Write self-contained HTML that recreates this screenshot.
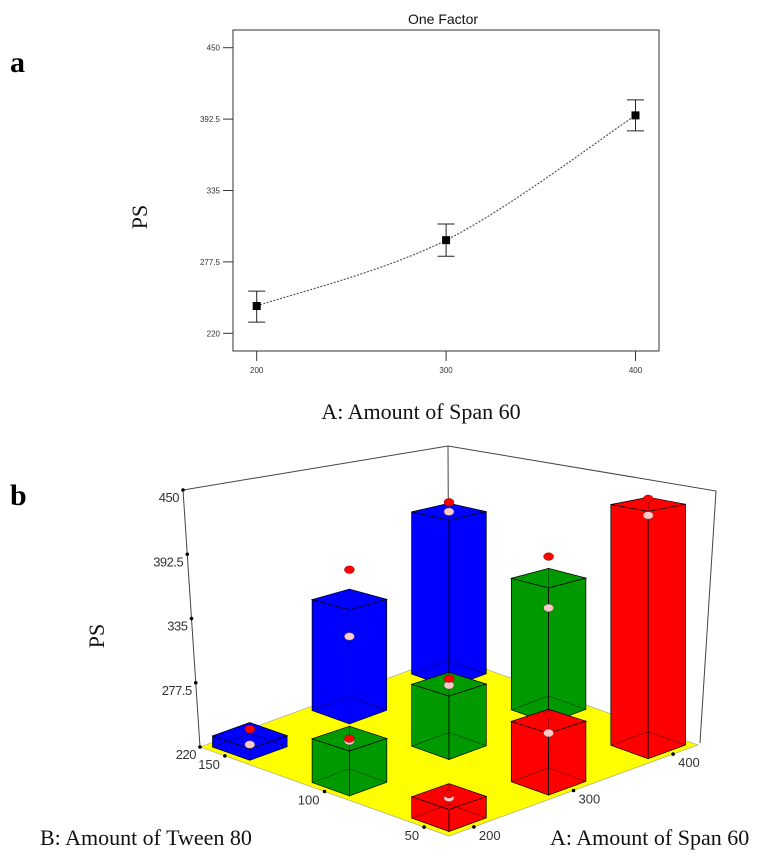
<!DOCTYPE html>
<html><head><meta charset="utf-8"><style>
html,body{margin:0;padding:0;background:#fff;}
svg{display:block;}
</style></head><body>
<svg id="fig" width="769" height="859" viewBox="0 0 769 859" xmlns="http://www.w3.org/2000/svg">
  <text x="10" y="72" font-family="Liberation Serif, serif" font-weight="bold" font-size="30">a</text>
  <text x="10" y="505" font-family="Liberation Serif, serif" font-weight="bold" font-size="30">b</text>
  <g id="chartA"></g>
  <g id="chartB"></g>
</svg>
<script>
// ---- Chart a data ----
const aCategories = [200, 300, 400];
const aMeans = [242, 295, 395.5];
const aUpper = [254, 308, 408];
const aLower = [229, 282, 383];
const aYTicks = [220, 277.5, 335, 392.5, 450];
const aYTickLabels = ["220", "277.5", "335", "392.5", "450"];

// ---- Chart b data ----
const bALevels = [200, 300, 400];
const bBLevels = [50, 100, 150];
// bar values indexed [A index][B index]
const bBarValues = [[237, 257, 230], [271, 276, 328], [438, 348, 391]];
const bPinkValues = [[236, 255, 222], [261, 275, 292], [428, 319, 391]];
const bRedValues = [[239, 257, 236], [276, 281, 357], [443, 369, 401]];
const bZTicks = [220, 277.5, 335, 392.5, 450];
const bZTickLabels = ["220", "277.5", "335", "392.5", "450"];

const NS = "http://www.w3.org/2000/svg";
function mk(parent, tag, attrs, name) {
  const el = document.createElementNS(NS, tag);
  for (const k in attrs) el.setAttribute(k, attrs[k]);
  
  
  parent.appendChild(el);
  return el;
}

// ===== Chart a =====
(function () {
  const g = document.getElementById('chartA');
  const L = 233, R = 659, T = 30, B = 351;
  const xs = v => 256.7 + (v - 200) / 200 * (635.5 - 256.7);
  const ys = v => 333.3 - (v - 220) / 230 * (333.3 - 47.7);
  let t = mk(g, 'text', {x: 443, y: 24, 'text-anchor': 'middle', 'font-family': 'Liberation Sans, sans-serif', 'font-size': 14, fill: '#111'}, 'chart-title');
  t.textContent = 'One Factor';
  mk(g, 'rect', {x: L, y: T, width: R - L, height: B - T, fill: 'none', stroke: '#333', 'stroke-width': 1}, 'plot-frame');
  aYTicks.forEach((v, i) => {
    const y = ys(v);
    mk(g, 'line', {x1: L - 10, x2: L, y1: y, y2: y, stroke: '#333'}, 'y-tick');
    const tx = mk(g, 'text', {x: L - 13, y: y + 3, 'text-anchor': 'end', 'font-family': 'Liberation Sans, sans-serif', 'font-size': 8, fill: '#333'}, 'y-tick-label');
    tx.textContent = aYTickLabels[i];
  });
  aCategories.forEach(v => {
    const x = xs(v);
    mk(g, 'line', {x1: x, x2: x, y1: B, y2: B + 10, stroke: '#333'}, 'x-tick');
    const tx = mk(g, 'text', {x: x, y: 373, 'text-anchor': 'middle', 'font-family': 'Liberation Sans, sans-serif', 'font-size': 8, fill: '#333'}, 'x-tick-label');
    tx.textContent = String(v);
  });
  // smooth dotted line through means
  const pts = aCategories.map((c, i) => [xs(c), ys(aMeans[i])]);
  let d = 'M' + pts[0][0] + ' ' + pts[0][1];
  for (let i = 0; i < pts.length - 1; i++) {
    const p0 = pts[Math.max(0, i - 1)], p1 = pts[i], p2 = pts[i + 1], p3 = pts[Math.min(pts.length - 1, i + 2)];
    const c1 = [p1[0] + (p2[0] - p0[0]) / 6, p1[1] + (p2[1] - p0[1]) / 6];
    const c2 = [p2[0] - (p3[0] - p1[0]) / 6, p2[1] - (p3[1] - p1[1]) / 6];
    d += ' C' + c1.join(' ') + ' ' + c2.join(' ') + ' ' + p2.join(' ');
  }
  mk(g, 'path', {d: d, fill: 'none', stroke: '#555', 'stroke-width': 1.2, 'stroke-dasharray': '2 1.5'}, 'mean-line');
  aCategories.forEach((c, i) => {
    const x = xs(c);
    mk(g, 'line', {x1: x, x2: x, y1: ys(aUpper[i]), y2: ys(aLower[i]), stroke: '#222'}, 'error-bar');
    mk(g, 'line', {x1: x - 8.5, x2: x + 8.5, y1: ys(aUpper[i]), y2: ys(aUpper[i]), stroke: '#222'}, 'error-cap-top');
    mk(g, 'line', {x1: x - 8.5, x2: x + 8.5, y1: ys(aLower[i]), y2: ys(aLower[i]), stroke: '#222'}, 'error-cap-bottom');
    mk(g, 'rect', {x: x - 4, y: ys(aMeans[i]) - 4, width: 8, height: 8, fill: '#000'}, 'mean-point');
  });
  t = mk(g, 'text', {x: 421, y: 419, 'text-anchor': 'middle', 'font-family': 'Liberation Serif, serif', 'font-size': 22, fill: '#111'}, 'x-axis-title');
  t.textContent = 'A: Amount of Span 60';
  t = mk(g, 'text', {x: 0, y: 0, 'text-anchor': 'middle', 'font-family': 'Liberation Serif, serif', 'font-size': 22, fill: '#111', transform: 'translate(147,217) rotate(-90)'}, 'y-axis-title');
  t.textContent = 'PS';
})();

// ===== Chart b =====
(function () {
  const g = document.getElementById('chartB');
  const F = [449, 836], AV = [249, -91], BV = [-249, -89];
  const uOf = a => 0.1 + (a - 200) / 200 * 0.8;
  const vOf = b => 0.1 + (b - 50) / 100 * 0.8;
  const sc = (u, v) => 1.30 - 0.39 * (u + v) / 2;
  function P(u, v, val) {
    const x = F[0] + u * AV[0] + v * BV[0];
    const y = F[1] + u * AV[1] + v * BV[1] - (val - 220) * sc(u, v);
    return [x, y];
  }
  const pstr = arr => arr.map(p => p[0].toFixed(1) + ',' + p[1].toFixed(1)).join(' ');
  // floor
  const Lc = P(0, 1, 220), Fc = P(0, 0, 220), Rc = P(1, 0, 220), Bc = P(1, 1, 220);
  mk(g, 'polygon', {points: pstr([Lc, Fc, Rc, Bc]), fill: '#ffff00', stroke: '#999', 'stroke-width': 0.6}, 'floor');
  // frame
  const LT = [183, 490], BT = [448, 446], RT = [716, 491];
  mk(g, 'polyline', {points: pstr([[Lc[0], Lc[1]], LT, BT, RT, [Rc[0] + 2, Rc[1] - 2]]), fill: 'none', stroke: '#444', 'stroke-width': 1}, 'frame-lines');
  mk(g, 'line', {x1: BT[0], y1: BT[1], x2: Bc[0], y2: Bc[1], stroke: '#444'}, 'back-vertical');
  bZTicks.forEach((v, i) => {
    const f = (v - 220) / 230;
    const x = Lc[0] + (LT[0] - Lc[0]) * f, y = Lc[1] + (LT[1] - Lc[1]) * f;
    mk(g, 'circle', {cx: x, cy: y, r: 1.8, fill: '#000'}, 'z-tick');
    const t = mk(g, 'text', {x: x - 4, y: y + 12, 'text-anchor': 'end', 'font-family': 'Liberation Sans, sans-serif', 'font-size': 13, fill: '#333', 'letter-spacing': '-0.5'}, 'z-tick-label');
    t.textContent = bZTickLabels[i];
  });
  bBLevels.forEach(b => {
    const p = P(0, vOf(b), 220);
    mk(g, 'circle', {cx: p[0], cy: p[1], r: 1.8, fill: '#000'}, 'b-tick');
    const t = mk(g, 'text', {x: p[0] - 5, y: p[1] + 13, 'text-anchor': 'end', 'font-family': 'Liberation Sans, sans-serif', 'font-size': 13, fill: '#333'}, 'b-tick-label');
    t.textContent = String(b);
  });
  bALevels.forEach(a => {
    const p = P(uOf(a), 0, 220);
    mk(g, 'circle', {cx: p[0], cy: p[1], r: 1.8, fill: '#000'}, 'a-tick');
    const t = mk(g, 'text', {x: p[0] + 5, y: p[1] + 13, 'text-anchor': 'start', 'font-family': 'Liberation Sans, sans-serif', 'font-size': 13, fill: '#333'}, 'a-tick-label');
    t.textContent = String(a);
  });
  // bars
  const colors = ['#ff0000', '#009a00', '#0000ff'];
  const h = 0.075;
  const order = [];
  bALevels.forEach((a, i) => bBLevels.forEach((b, j) => order.push([i, j])));
  order.sort((p, q) => (q[0] + q[1]) - (p[0] + p[1]));
  order.forEach(([i, j]) => {
    const u = uOf(bALevels[i]), v = vOf(bBLevels[j]);
    const val = bBarValues[i][j];
    const col = colors[j];
    const bg = mk(g, 'g', {}, 'bar-a' + bALevels[i] + '-b' + bBLevels[j]);
    const fb = P(u - h, v - h, 220), lb = P(u - h, v + h, 220), rb = P(u + h, v - h, 220), bb = P(u + h, v + h, 220);
    const ft = P(u - h, v - h, val), lt = P(u - h, v + h, val), rt = P(u + h, v - h, val), bt = P(u + h, v + h, val);
    mk(bg, 'polygon', {points: pstr([lb, fb, ft, lt]), fill: col, stroke: '#000', 'stroke-width': 0.7}, 'bar-left-face');
    mk(bg, 'polygon', {points: pstr([fb, rb, rt, ft]), fill: col, stroke: '#000', 'stroke-width': 0.7}, 'bar-right-face');
    mk(bg, 'polygon', {points: pstr([lt, ft, rt, bt]), fill: col, stroke: '#000', 'stroke-width': 0.7}, 'bar-top-face');
    mk(bg, 'polyline', {points: pstr([lb, bb, rb]), fill: 'none', stroke: '#000', 'stroke-width': 0.6, opacity: 0.6}, 'bar-hidden-edges');
    mk(bg, 'line', {x1: bb[0], y1: bb[1], x2: bt[0], y2: bt[1], stroke: '#000', 'stroke-width': 0.6, opacity: 0.6}, 'bar-hidden-vertical');
    const pr = P(u, v, bRedValues[i][j]);
    const pp = P(u, v, bPinkValues[i][j]);
    mk(bg, 'ellipse', {cx: pp[0], cy: pp[1], rx: 5, ry: 3.8, fill: '#ffc8c8', stroke: '#666', 'stroke-width': 0.5}, 'predicted-point');
    mk(bg, 'ellipse', {cx: pr[0], cy: pr[1], rx: 5, ry: 3.8, fill: '#ff0000', stroke: '#900', 'stroke-width': 0.5}, 'design-point');
  });
  let t = mk(g, 'text', {x: 40, y: 845, 'font-family': 'Liberation Serif, serif', 'font-size': 22, fill: '#111'}, 'b-axis-title');
  t.textContent = 'B: Amount of Tween 80';
  t = mk(g, 'text', {x: 550, y: 845, 'font-family': 'Liberation Serif, serif', 'font-size': 22, fill: '#111'}, 'a-axis-title');
  t.textContent = 'A: Amount of Span 60';
  t = mk(g, 'text', {x: 0, y: 0, 'text-anchor': 'middle', 'font-family': 'Liberation Serif, serif', 'font-size': 22, fill: '#111', transform: 'translate(104,636) rotate(-90)'}, 'z-axis-title');
  t.textContent = 'PS';
})();
</script>
</body></html>
